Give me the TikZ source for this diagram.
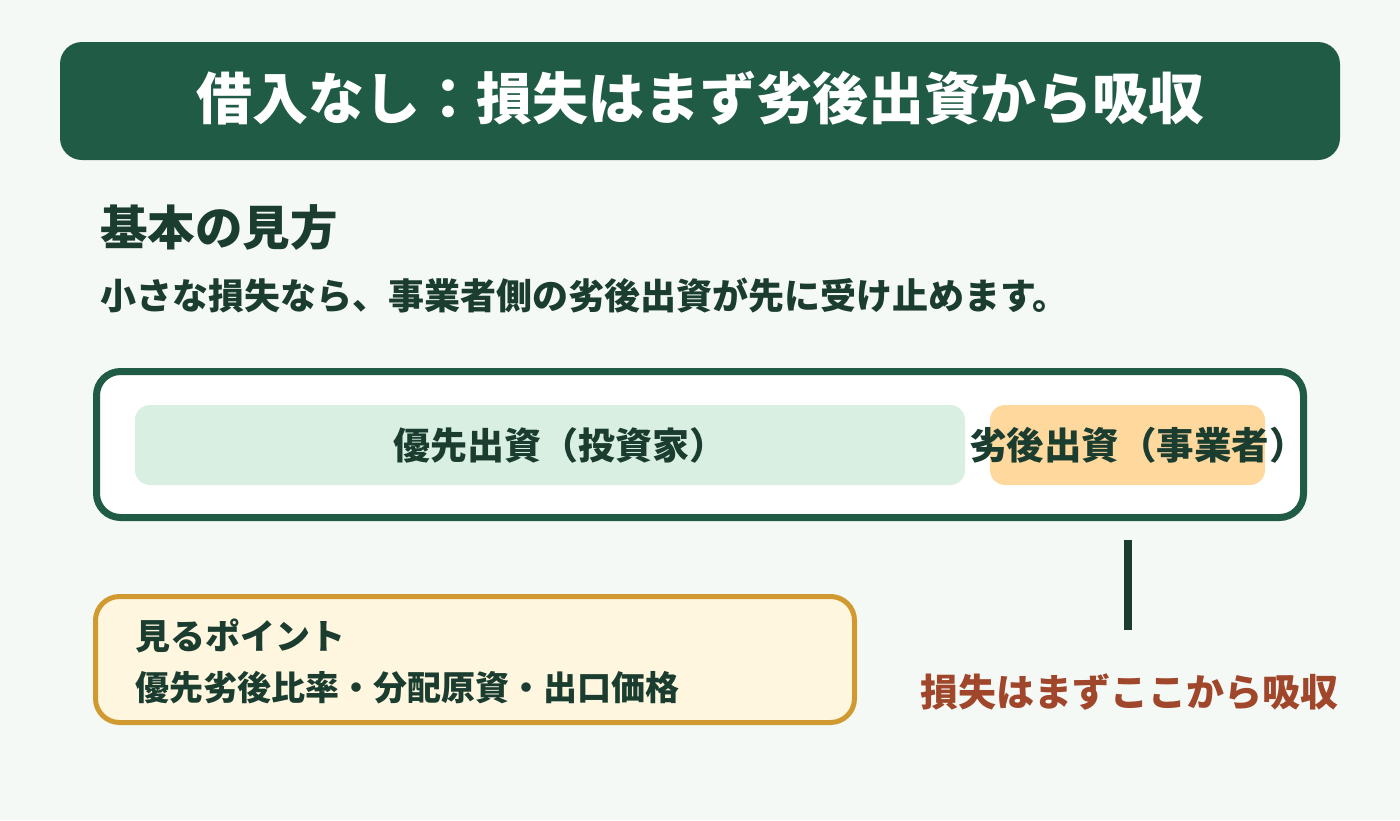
\documentclass[tikz,border=0pt]{standalone}
\usepackage{fontspec}
\setmainfont{Noto Sans CJK JP}[BoldFont={Noto Sans CJK JP Black}]
\definecolor{bgpale}{HTML}{F5F9F6}
\definecolor{greendark}{HTML}{205C45}
\definecolor{inkdark}{HTML}{1B3D30}
\definecolor{seniorfill}{HTML}{D8EFE2}
\definecolor{juniorfill}{HTML}{FFD89E}
\definecolor{notefill}{HTML}{FFF6DF}
\definecolor{noteline}{HTML}{D09A30}
\definecolor{lossred}{HTML}{A0462A}
\newcommand{\fs}[1]{\fontsize{#1}{#1}\selectfont\bfseries}
\begin{document}
\begin{tikzpicture}[x=1pt,y=-1pt,
        bar/.style = {rectangle, rounded corners=22pt, fill=greendark, minimum width=1280pt, minimum height=118pt},
        frame/.style = {rectangle, rounded corners=24pt, draw=greendark, line width=7pt, fill=white, minimum width=1207pt, minimum height=146pt},
        part/.style = {rectangle, rounded corners=15pt, minimum height=80pt},
        note/.style = {rectangle, rounded corners=24pt, draw=noteline, line width=5pt, fill=notefill, minimum width=759pt, minimum height=126pt},
        txt/.style = {inner sep=0pt, text=inkdark}]
        \fill[bgpale] (0,0) rectangle (1400,820);
        \node[bar] (title) at (700,101) {};
        \node[txt,text=white] at (700,98) {\fs{56}借入なし：損失はまず劣後出資から吸収};
        \node[txt,anchor=west] (head) at (100,228) {\fs{47.5}基本の見方};
        \node[txt,anchor=west] (lead) at (100,296) {\fs{36}小さな損失なら、事業者側の劣後出資が先に受け止めます。};
        \node[frame] (frame) at (700,444.5) {};
        \node[part,fill=seniorfill,minimum width=830pt] (senior) at (550,445) {};
        \node[part,fill=juniorfill,minimum width=275pt] (junior) at (1127.5,445) {};
        \node[txt] at (560,445) {\fs{37}優先出資（投資家）};
        \node[txt] at (1138,445) {\fs{37.5}劣後出資（事業者）};
        \coordinate (stemtop) at (1128,540);
        \coordinate (stembot) at (1128,630);
        \draw[inkdark,line width=8pt] (stemtop) -- (stembot);
        \node[txt,text=lossred] (absorb) at (1129,692) {\fs{38}損失はまずここから吸収};
        \node[note] (points) at (475,659.5) {};
        \node[txt,anchor=west] (ptitle) at (135,636) {\fs{35}見るポイント};
        \node[txt,anchor=west] (plist) at (135,688) {\fs{34}優先劣後比率・分配原資・出口価格};
    \end{tikzpicture}
\end{document}
